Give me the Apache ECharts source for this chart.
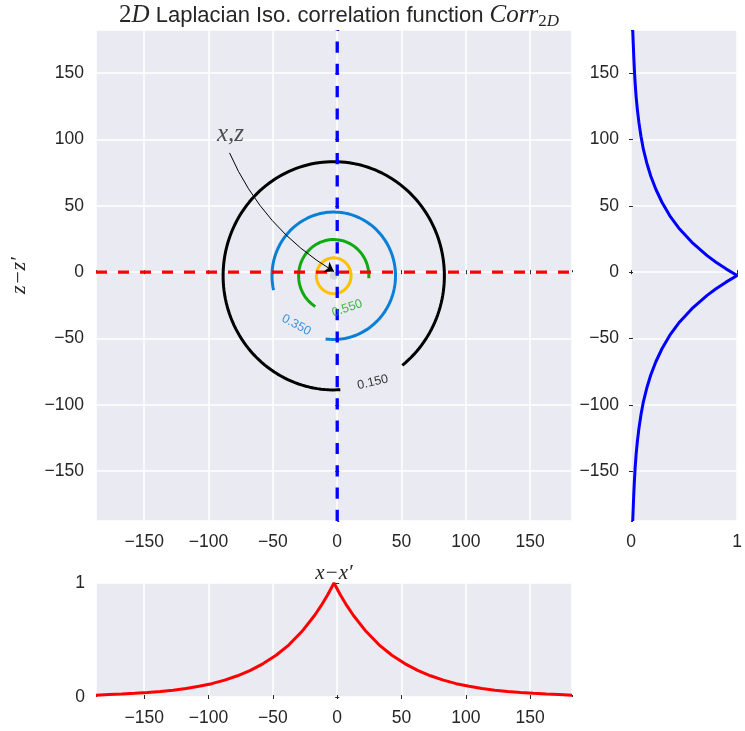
<!DOCTYPE html>
<html>
<head>
<meta charset="utf-8">
<script src="https://cdn.jsdelivr.net/npm/echarts@6/dist/echarts.min.js"></script>
<style>
  html, body { margin: 0; padding: 0; background: #ffffff; }
  #chart { width: 745px; height: 731px; }
</style>
</head>
<body>
<div id="chart"></div>
<script>
// Contour levels of the 2-D correlation and the radius of each ring (data units)
const levels = [0.15, 0.35, 0.55, 0.75];
const levelLabels = ['0.150', '0.350', '0.550'];
const ringRadius = [86, 48, 27.3, 13.5];
// Angular extent of each ring, degrees counter-clockwise from +x (gap = label slot)
const ringStart = [-51.7, -97.6, -4, 0];
const ringEnd = [273.4, 193, 238.3, 360];
// Reference point (x, z) of the correlation function
const ringCenter = [-2.7, -2.7];

// 1-D cuts of the correlation along x and along z
const offsets = [-187.5, -177.5, -167.5, -157.5, -147.5, -137.5, -127.5, -117.5, -107.5, -97.5,
                 -87.5, -77.5, -67.5, -57.5, -47.5, -37.5, -27.5, -17.5, -12.5, -7.5,
                 -2.5, 2.5, 7.5, 12.5, 22.5, 32.5, 42.5, 52.5, 62.5, 72.5,
                 82.5, 92.5, 102.5, 112.5, 122.5, 132.5, 142.5, 152.5, 162.5, 172.5, 182.5];
const corrX = [0.016, 0.021, 0.026, 0.032, 0.039, 0.048, 0.060, 0.075, 0.094, 0.117,
               0.148, 0.186, 0.234, 0.293, 0.366, 0.458, 0.574, 0.717, 0.801, 0.895,
               1.000, 0.895, 0.801, 0.717, 0.574, 0.458, 0.366, 0.293, 0.234, 0.186,
               0.148, 0.117, 0.094, 0.075, 0.060, 0.048, 0.039, 0.032, 0.026, 0.021, 0.016];
const corrZ = corrX.slice();

// Axis limits shared by the map and the two profile panels
const lagMin = -187.5, lagMax = 182.5;

const INK = '#262626';
const BG = '#EAEAF2';
const ringColors = ['#000000', '#0a7fd6', '#10aa10', '#ffc000'];
const SANS = 'Liberation Sans';
const SERIF = 'Liberation Serif';

function minusFmt(v) {
  return v < 0 ? '\u2212' + Math.abs(v) : String(v);
}

function ringPoints(i) {
  const pts = [];
  const a0 = ringStart[i], a1 = ringEnd[i];
  const n = Math.ceil((a1 - a0) / 2);
  for (let k = 0; k <= n; k++) {
    const a = (a0 + (a1 - a0) * k / n) * Math.PI / 180;
    pts.push([ringCenter[0] + ringRadius[i] * Math.cos(a),
              ringCenter[1] + ringRadius[i] * Math.sin(a)]);
  }
  return pts;
}

function valAxis(extra) {
  return Object.assign({
    type: 'value',
    axisLine: { show: false },
    axisTick: { show: true, length: 2, lineStyle: { color: INK, width: 1 } },
    axisLabel: {
      color: INK, fontSize: 17.5, fontFamily: SANS, margin: 12,
      showMinLabel: false, showMaxLabel: false, formatter: minusFmt
    },
    splitLine: { show: true, lineStyle: { color: '#ffffff', width: 1.5 } }
  }, extra);
}

function mirrorAxis(extra) {
  return Object.assign({
    type: 'value',
    axisLine: { show: false },
    axisTick: { show: true, length: 2, lineStyle: { color: INK, width: 1 } },
    axisLabel: { show: false },
    splitLine: { show: false }
  }, extra);
}

const lagAxis = { min: lagMin, max: lagMax, splitNumber: 7 };
const unitAxis = { min: 0, max: 1, interval: 1 };
const unitLabels = { color: INK, fontSize: 17.5, fontFamily: SANS, margin: 12, showMinLabel: true, showMaxLabel: true, formatter: minusFmt };

const series = [];

// contour rings
levels.forEach(function (lv, i) {
  series.push({
    type: 'line', name: 'level ' + lv,
    xAxisIndex: 0, yAxisIndex: 0,
    data: ringPoints(i),
    showSymbol: false, symbol: 'none', smooth: false,
    lineStyle: { color: ringColors[i], width: 3 },
    z: 3, silent: true
  });
});

// reference point marker
series.push({
  type: 'scatter', xAxisIndex: 0, yAxisIndex: 0,
  data: [ringCenter],
  symbolSize: 8, itemStyle: { color: '#cfcfcf' }, z: 3, silent: true
});

// dashed cross-hairs through the origin
series.push({
  type: 'line', xAxisIndex: 0, yAxisIndex: 0,
  data: [[lagMin, 0], [lagMax, 0]],
  showSymbol: false, symbol: 'none',
  lineStyle: { color: '#ff0000', width: 3.3, type: [11, 11] },
  z: 4, silent: true
});
series.push({
  type: 'line', xAxisIndex: 0, yAxisIndex: 0,
  data: [[0, lagMin], [0, lagMax]],
  showSymbol: false, symbol: 'none',
  lineStyle: { color: '#0000ff', width: 3.3, type: [11.2, 11.1] },
  z: 4, silent: true
});

// curved pointer from the "x,z" note to the reference point
series.push({
  type: 'lines', coordinateSystem: 'cartesian2d', xAxisIndex: 0, yAxisIndex: 0,
  data: [{ coords: [[-83.7, 89.9], [-2.5, 0.5]] }],
  symbol: ['none', 'arrow'], symbolSize: [7, 9],
  lineStyle: { color: '#000000', width: 1, curveness: -0.16, opacity: 1 },
  z: 6, silent: true
});

// text annotations on the map
series.push({
  type: 'scatter', xAxisIndex: 0, yAxisIndex: 0, symbolSize: 0, z: 7, silent: true,
  data: [
    { value: [-83, 104], label: { formatter: 'x,z', fontFamily: SERIF, fontStyle: 'italic', fontSize: 25, color: INK } },
    { value: [27.6, -83], label: { formatter: levelLabels[0], rotate: 13, color: ringColors[0] } },
    { value: [-31.8, -39.8], label: { formatter: levelLabels[1], rotate: -28, color: ringColors[1] } },
    { value: [7.7, -27.2], label: { formatter: levelLabels[2], rotate: 19, color: ringColors[2] } }
  ],
  label: { show: true, position: 'inside', fontFamily: SANS, fontSize: 12.5 }
});

// profile along x (bottom panel)
series.push({
  type: 'line', xAxisIndex: 1, yAxisIndex: 1,
  data: offsets.map(function (x, i) { return [x, corrX[i]]; }),
  showSymbol: false, symbol: 'none',
  lineStyle: { color: '#ff0000', width: 3 }, z: 3, silent: true
});

// profile along z (right panel)
series.push({
  type: 'line', xAxisIndex: 2, yAxisIndex: 2,
  data: offsets.map(function (z, i) { return [corrZ[i], z]; }),
  showSymbol: false, symbol: 'none',
  lineStyle: { color: '#0000ff', width: 3 }, z: 3, silent: true
});

const chart = echarts.init(document.getElementById('chart'), null, { renderer: 'canvas' });

chart.setOption({
  animation: false,
  backgroundColor: '#ffffff',
  title: {
    text: '{r|2}{i|D} Laplacian Iso. correlation function {i|Corr}{sr|2}{si|D}',
    left: 334, top: -4, textAlign: 'center',
    textStyle: {
      fontFamily: SANS, fontSize: 22, fontWeight: 'normal', color: INK,
      rich: {
        r: { fontFamily: SERIF, fontSize: 25, color: INK },
        i: { fontFamily: SERIF, fontStyle: 'italic', fontSize: 25, color: INK },
        sr: { fontFamily: SERIF, fontSize: 17, color: INK, padding: [12, 0, 0, 0] },
        si: { fontFamily: SERIF, fontStyle: 'italic', fontSize: 17, color: INK, padding: [12, 0, 0, 0] }
      }
    }
  },
  grid: [
    { left: 96, top: 30, width: 476, height: 491, show: true, backgroundColor: BG, borderWidth: 0 },
    { left: 96, top: 583, width: 476, height: 114, show: true, backgroundColor: BG, borderWidth: 0 },
    { left: 631, top: 30, width: 111, height: 491, show: true, backgroundColor: BG, borderWidth: 0 }
  ],
  xAxis: [
    valAxis(Object.assign({ gridIndex: 0, name: 'x\u2212x\u2032', nameLocation: 'middle', nameGap: 42,
      nameTextStyle: { fontFamily: SERIF, fontStyle: 'italic', fontSize: 21, color: INK } }, lagAxis)),
    valAxis(Object.assign({ gridIndex: 1 }, lagAxis)),
    valAxis(Object.assign({ gridIndex: 2 }, unitAxis, { axisLabel: unitLabels })),
    mirrorAxis(Object.assign({ gridIndex: 0, position: 'top' }, lagAxis)),
    mirrorAxis(Object.assign({ gridIndex: 1, position: 'top' }, lagAxis)),
    mirrorAxis(Object.assign({ gridIndex: 2, position: 'top' }, unitAxis))
  ],
  yAxis: [
    valAxis(Object.assign({ gridIndex: 0, name: 'z\u2212z\u2032', nameLocation: 'middle', nameGap: 66, nameRotate: 90,
      nameTextStyle: { fontFamily: SERIF, fontStyle: 'italic', fontSize: 22, color: INK } }, lagAxis)),
    valAxis(Object.assign({ gridIndex: 1 }, unitAxis, { axisLabel: Object.assign({}, unitLabels, { margin: 11 }) })),
    valAxis(Object.assign({ gridIndex: 2 }, lagAxis)),
    mirrorAxis(Object.assign({ gridIndex: 0, position: 'right' }, lagAxis)),
    mirrorAxis(Object.assign({ gridIndex: 1, position: 'right' }, unitAxis)),
    mirrorAxis(Object.assign({ gridIndex: 2, position: 'right' }, lagAxis))
  ],
  series: series
});
</script>
</body>
</html>
